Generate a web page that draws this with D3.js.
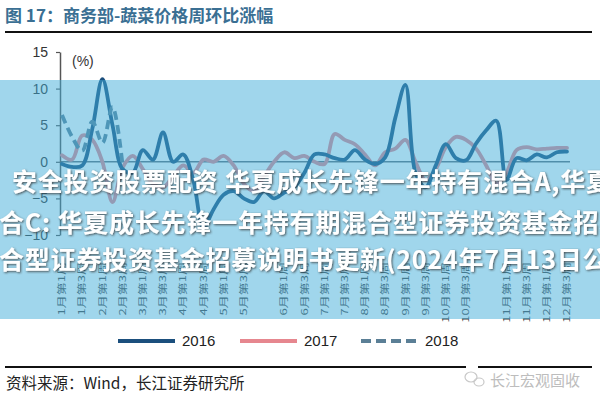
<!DOCTYPE html>
<html><head><meta charset="utf-8">
<script src="https://cdn.jsdelivr.net/npm/d3@7"></script>
<style>
html,body{margin:0;padding:0;background:#fff;}
svg{display:block;}
</style></head>
<body>
<svg id="c" width="600" height="400"></svg>
<script>
const weeks = ["1月第1周","1月第2周","1月第3周","1月第4周","2月第1周","2月第2周","2月第3周","2月第4周",
"3月第1周","3月第2周","3月第3周","3月第4周","4月第1周","4月第2周","4月第3周","4月第4周",
"5月第1周","5月第2周","5月第3周","5月第4周","5月第5周","5月末周",
"6月第1周","6月第2周","6月第3周","6月第4周","7月第1周","7月第2周","7月第3周","7月第4周",
"8月第1周","8月第2周","8月第3周","8月第4周","9月第1周","9月第2周","9月第3周","9月第4周",
"10月第1周","10月第2周","10月第3周","10月第4周","10月第5周","10月末周",
"11月第1周","11月第2周","11月第3周","11月第4周","12月第1周","12月第2周","12月第3周"];
const tickLabels = ["1月第1周","1月第3周","2月第1周","2月第3周","3月第1周","3月第3周","4月第1周","4月第3周","5月第1周","5月第3周",
"6月第1周","6月第3周","7月第1周","7月第3周","8月第1周","8月第3周","9月第1周","9月第3周","10月第1周","10月第3周",
"11月第1周","11月第3周","12月第1周","12月第3周"];
const yTicks = [-10,-5,0,5,10,15];
const seriesNames = ["2016","2017","2018"];
const v2016 = [-0.3,-0.7,-0.5,4.5,11.3,5.0,-1.0,-1.5,1.6,0.3,4.0,0.0,1.0,-2.5,-9.0,-6.5,-4.5,-4.0,-5.0,-5.5,-4.0,-5.0,-4.2,-3.5,-1.5,1.0,1.0,0.5,0.3,1.6,0.3,-0.3,0.6,6.0,10.5,-1.5,-3.5,-0.5,2.4,0.5,0.2,2.5,4.3,5.6,-2.5,0.5,0.2,1.0,0.6,1.3,1.4];
const v2017 = [0.9,0.3,3.6,3.0,0.0,-5.5,-0.8,0.8,-1.0,-3.0,-3.5,-2.0,-0.5,-1.5,0.3,0.0,0.8,-0.5,-3.0,-4.0,-2.0,0.0,1.3,0.5,0.8,0.0,-0.3,3.8,3.0,2.4,1.0,-0.5,1.3,1.8,3.0,0.0,-2.5,-1.0,2.0,3.4,3.0,1.8,-0.5,-3.0,-1.5,1.6,2.0,1.7,1.8,1.9,1.9];
const v2018 = [6.4,3.4,1.5,5.5,2.6,7.5,-0.5];

const colors = {"2016":"#1b4f7d","2017":"#e6878f","2018":"#5b7f96"};
const svg = d3.select("#c");

// title
svg.append("text").attr("x",5).attr("y",22)
  .attr("font-family","'Noto Sans CJK SC',sans-serif").attr("font-weight","bold")
  .attr("font-size",17).attr("fill","#3a6f93").text("图 17：商务部-蔬菜价格周环比涨幅");
svg.append("line").attr("x1",5).attr("x2",592).attr("y1",32).attr("y2",32)
  .attr("stroke","#111").attr("stroke-width",2);

const x = d3.scaleLinear().domain([0, weeks.length-1]).range([62,567]);
const y = d3.scaleLinear().domain([-10,15]).range([235,52]);

// zero line
svg.append("line").attr("x1",60).attr("x2",570).attr("y1",y(0)).attr("y2",y(0))
  .attr("stroke","#5f6f7a").attr("stroke-width",1.5);

const yAxis = svg.append("g").attr("transform","translate(60,0)")
  .call(d3.axisLeft(y).tickValues(yTicks).tickSize(4).tickSizeOuter(0).tickPadding(8));
yAxis.select(".domain").attr("stroke","#555").attr("stroke-width",1.5);
yAxis.selectAll(".tick line").attr("stroke","#555").attr("stroke-width",1.2);
yAxis.selectAll(".tick text").attr("font-family","'Liberation Sans',Arial,sans-serif")
  .attr("font-size",14).attr("fill","#333");

svg.append("text").attr("x",72).attr("y",66).attr("font-family","'Liberation Sans',Arial,sans-serif")
  .attr("font-size",14).attr("fill","#333").text("(%)");

// x labels
svg.append("g").selectAll("text").data(tickLabels).join("text")
  .attr("transform",d=>`translate(${x(weeks.indexOf(d))},262) rotate(-90) scale(1,0.7)`)
  .attr("text-anchor","end").attr("dy","0.35em")
  .attr("font-family","'Noto Sans CJK SC',sans-serif").attr("font-size",13)
  .attr("fill","#444").text(d=>d);

const line = d3.line().x((d,i)=>x(i)).y(d=>y(d)).curve(d3.curveCatmullRom.alpha(0.5));
const data = {"2016":v2016,"2017":v2017,"2018":v2018};
["2017","2016","2018"].forEach(s=>{
  svg.append("path").datum(data[s]).attr("d",line).attr("fill","none")
    .attr("stroke",colors[s]).attr("stroke-width",3.8)
    .attr("stroke-linejoin","round").attr("stroke-linecap",s==="2018"?"butt":"round")
    .attr("stroke-dasharray",s==="2018"?"9,5":null);
});

// legend
const legX = [118,240,361];
seriesNames.forEach((s,i)=>{
  svg.append("line").attr("x1",legX[i]).attr("x2",legX[i]+57).attr("y1",341).attr("y2",341)
    .attr("stroke",colors[s]).attr("stroke-width",4)
    .attr("stroke-dasharray",s==="2018"?"10,5":null);
  svg.append("text").attr("x",legX[i]+64).attr("y",346)
    .attr("font-family","'Liberation Sans',Arial,sans-serif").attr("font-size",15)
    .attr("fill","#222").text(s);
});

// bottom rule and source
svg.append("line").attr("x1",5).attr("x2",466).attr("y1",367).attr("y2",367).attr("stroke","#111").attr("stroke-width",2);
svg.append("line").attr("x1",478).attr("x2",592).attr("y1",367).attr("y2",367).attr("stroke","#111").attr("stroke-width",2);
svg.append("text").attr("x",6).attr("y",389)
  .attr("font-family","'Noto Sans CJK SC',sans-serif").attr("font-size",15.5)
  .attr("fill","#222").text("资料来源：Wind，长江证券研究所");
// wechat-like mark
svg.append("ellipse").attr("cx",471).attr("cy",377).attr("rx",6).attr("ry",5).attr("fill","none").attr("stroke","#c8c8c8").attr("stroke-width",1.2);
svg.append("ellipse").attr("cx",479).attr("cy",382).attr("rx",5).attr("ry",4).attr("fill","none").attr("stroke","#c8c8c8").attr("stroke-width",1.2);
svg.append("text").attr("x",490).attr("y",386)
  .attr("font-family","'Noto Sans CJK SC',sans-serif").attr("font-size",15)
  .attr("fill","#bdbdbd").text("长江宏观固收");

// translucent overlay band
svg.append("rect").attr("x",0).attr("y",80).attr("width",600).attr("height",239)
  .attr("fill","rgb(66,174,218)").attr("fill-opacity",0.5);

// overlay caption text
const defs = svg.append("defs");
const f = defs.append("filter").attr("id","sh").attr("x","-10%").attr("y","-30%").attr("width","120%").attr("height","160%");
f.append("feDropShadow").attr("dx",1).attr("dy",1).attr("stdDeviation",1).attr("flood-color","#333").attr("flood-opacity",0.8);
const capLines = ["安全投资股票配资 华夏成长先锋一年持有混合A,华夏成长先锋一年持有混",
  "合C: 华夏成长先锋一年持有期混合型证券投资基金招募说明书",
  "合型证券投资基金招募说明书更新(2024年7月13日公告)"];
const capX = [12,-1,-1], capY = [191,232,269];
capLines.forEach((t,i)=>{
  svg.append("text").attr("x",capX[i]).attr("y",capY[i])
    .attr("font-family","'Noto Sans CJK SC',sans-serif").attr("font-weight","bold")
    .attr("font-size",25).attr("letter-spacing",0.8).attr("fill","#fff")
    .attr("filter","url(#sh)").text(t);
});
</script>
</body></html>
